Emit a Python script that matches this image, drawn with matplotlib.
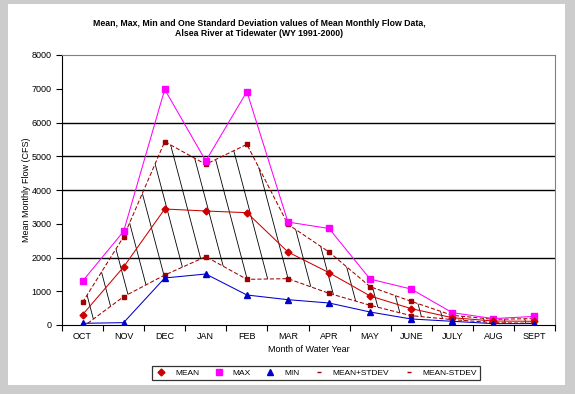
import numpy as np
import matplotlib
matplotlib.use("Agg")
import matplotlib.pyplot as plt
from matplotlib.patches import Rectangle, Polygon
from matplotlib.lines import Line2D

plt.rcParams['font.family'] = ['Liberation Sans', 'DejaVu Sans']

months = ['OCT', 'NOV', 'DEC', 'JAN', 'FEB', 'MAR', 'APR', 'MAY', 'JUNE', 'JULY', 'AUG', 'SEPT']
mean_flow = [305, 1720, 3437, 3378, 3328, 2163, 1550, 860, 484, 217, 118, 110]
max_flow = [1300, 2775, 6980, 4860, 6915, 3050, 2860, 1360, 1065, 365, 190, 255]
min_flow = [50, 70, 1393, 1511, 889, 750, 652, 385, 178, 110, 40, 40]
mean_plus_std = [672, 2617, 5432, 4760, 5353, 2983, 2163, 1136, 701, 287, 168, 190]
mean_minus_std = [-62, 840, 1480, 2025, 1353, 1373, 938, 584, 277, 160, 70, 50]

x = np.arange(len(months))

fig = plt.figure(figsize=(5.75, 3.94), dpi=100)
fig.patch.set_facecolor('#cccccc')
fig.patches.append(Rectangle((8 / 575, 1 - 385 / 394), 557 / 575, 381 / 394,
                             transform=fig.transFigure, facecolor='white',
                             edgecolor='none', zorder=-5))

ax = fig.add_axes([62 / 575, 1 - 325 / 394, 493 / 575, 270 / 394])
ax.set_facecolor('none')
ax.set_xlim(-0.5, 11.5)
ax.set_ylim(0, 8000)

# gridlines as in the original
for g in [2000, 4000, 5000, 6000]:
    ax.axhline(g, color='black', lw=1.0, zorder=1)

# hatched band between mean +/- stdev
band = Polygon(np.column_stack([np.r_[x, x[::-1]],
                                np.r_[mean_plus_std, mean_minus_std[::-1]]]),
               closed=True, facecolor='none', edgecolor='none')
ax.add_patch(band)
for x0 in np.arange(-3.0, 12.5, 0.5):
    hl, = ax.plot([x0, x0 + 0.217 * 7], [6000, -1000], color='black', lw=0.6,
                  zorder=2, clip_on=True)
    hl.set_clip_path(band)

dark = '#a00000'
ax.plot(x, mean_plus_std, color=dark, lw=0.75, ls=(0, (4, 2)), marker='s', ms=2.5, zorder=3)
ax.plot(x, mean_minus_std, color=dark, lw=0.75, ls=(0, (4, 2)), marker='s', ms=2.5, zorder=3)
ax.plot(x, max_flow, color='#ff00ff', lw=0.75, marker='s', ms=4.5, zorder=4)
ax.plot(x, mean_flow, color='#cc0000', lw=0.75, marker='D', ms=3.5, zorder=5)
ax.plot(x, min_flow, color='#0000cc', lw=0.75, marker='^', ms=5, zorder=5)

ax.set_yticks(range(0, 8001, 1000))
ax.set_xticks(x)
ax.set_xticklabels(months)
ax.set_xticks(np.arange(-0.5, 12, 1), minor=True)
ax.tick_params(axis='x', which='major', length=0, labelsize=6.5, pad=5)
ax.tick_params(axis='x', which='minor', length=4, width=0.8, direction='out')
ax.tick_params(axis='y', length=4, width=0.8, direction='out', labelsize=6.5)
for s in ['top', 'right']:
    ax.spines[s].set_color('#808080')
for s in ['left', 'bottom']:
    ax.spines[s].set_color('black')

ax.set_xlabel('Month of Water Year', fontsize=6.5, labelpad=3)
ax.set_ylabel('Mean Monthly Flow (CFS)', fontsize=6.5, labelpad=0)

fig.text(259 / 575, 1 - 24 / 394, 'Mean, Max, Min and One Standard Deviation values of Mean Monthly Flow Data,',
         ha='center', va='center', fontsize=6.3, fontweight='bold')
fig.text(259 / 575, 1 - 33.5 / 394, 'Alsea River at Tidewater (WY 1991-2000)',
         ha='center', va='center', fontsize=6.3, fontweight='bold')

handles = [
    Line2D([], [], ls='none', marker='D', ms=3.5, color='#cc0000'),
    Line2D([], [], ls='none', marker='s', ms=4.5, color='#ff00ff'),
    Line2D([], [], ls='none', marker='^', ms=5, color='#0000cc'),
    Line2D([], [], ls='none', marker='_', ms=3, color=dark),
    Line2D([], [], ls='none', marker='_', ms=3, color=dark),
]
labels = ['MEAN', 'MAX', 'MIN', 'MEAN+STDEV', 'MEAN-STDEV']
leg = fig.legend(handles, labels, loc='center', bbox_to_anchor=(316 / 575, 1 - 373 / 394),
                 ncol=5, fontsize=6, frameon=True, fancybox=False, handlelength=1.5,
                 columnspacing=1.6, handletextpad=0.9, borderpad=0.4)
leg.get_frame().set_edgecolor('black')
leg.get_frame().set_linewidth(0.9)

fig.savefig('out.png', dpi=100, facecolor=fig.get_facecolor())
